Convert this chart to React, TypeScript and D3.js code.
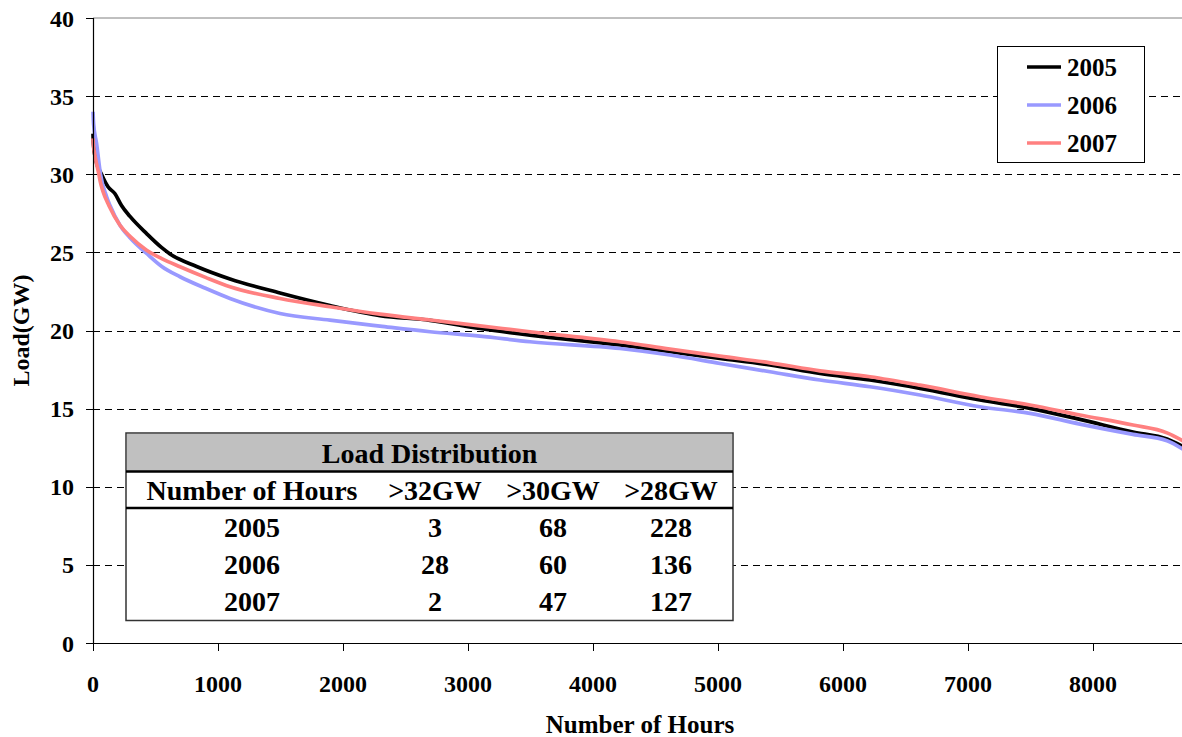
import React from 'react';
import * as d3 from 'd3';

// load duration curves, [hour, GW]
const load2005: [number, number][] = [
  [0, 32.6], [3, 32.0], [20, 31.0], [68, 30.0], [120, 29.2], [176, 28.75], [228, 28.0],
  [296, 27.3], [429, 26.2], [550, 25.3], [616, 24.9], [829, 24.1], [1096, 23.3],
  [1496, 22.4], [1896, 21.6], [2296, 20.95], [2696, 20.65], [3096, 20.13], [3496, 19.7],
  [4216, 19.07], [4616, 18.64], [5016, 18.21], [5416, 17.79], [5816, 17.25], [6216, 16.83],
  [6616, 16.3], [7096, 15.55], [7496, 15.02], [7896, 14.31], [8320, 13.5], [8592, 13.05],
  [8760, 12.4],
];
const load2006: [number, number][] = [
  [0, 34.0], [5, 33.2], [28, 32.0], [60, 30.0], [109, 28.56], [136, 28.0], [216, 26.74],
  [300, 25.9], [429, 24.93], [550, 24.1], [696, 23.44], [900, 22.7], [1096, 22.05],
  [1496, 21.09], [1896, 20.66], [2296, 20.28], [2696, 19.92], [3096, 19.64], [3496, 19.28],
  [4216, 18.85], [4616, 18.43], [5016, 17.89], [5416, 17.36], [5816, 16.83], [6216, 16.4],
  [6616, 15.87], [7096, 15.12], [7496, 14.7], [7896, 14.01], [8320, 13.35], [8592, 12.95],
  [8760, 12.2],
];
const load2007: [number, number][] = [
  [0, 32.3], [2, 32.0], [20, 31.0], [47, 30.0], [56, 29.6], [80, 28.9], [127, 28.0],
  [216, 26.74], [300, 26.0], [429, 25.14], [550, 24.6], [696, 24.08], [900, 23.4],
  [1096, 22.8], [1496, 22.05], [1896, 21.52], [2296, 21.05], [2696, 20.67], [3096, 20.3],
  [3496, 19.92], [4216, 19.28], [4616, 18.81], [5016, 18.36], [5416, 17.93], [5816, 17.42],
  [6216, 17.04], [6616, 16.5], [7096, 15.76], [7496, 15.23], [7896, 14.59], [8320, 13.95],
  [8592, 13.45], [8760, 12.75],
];

const seriesNames = ['2005', '2006', '2007'];
const seriesColors = ['#000000', '#9999FF', '#FF8080'];

const xTicks = [0, 1000, 2000, 3000, 4000, 5000, 6000, 7000, 8000];
const yTicks = [0, 5, 10, 15, 20, 25, 30, 35, 40];

// inset table
const tableTitle = 'Load Distribution';
const tableHeaders = ['Number of Hours', '>32GW', '>30GW', '>28GW'];
const tableYears = ['2005', '2006', '2007'];
const hoursOver32 = [3, 28, 2];
const hoursOver30 = [68, 60, 47];
const hoursOver28 = [228, 136, 127];

const width = 1182;
const height = 737;
const margin = { top: 18, left: 93, bottom: 94 };
const font = 'Liberation Serif, DejaVu Serif, Noto Serif, serif';

export default function App() {
  const x = d3.scaleLinear().domain([0, 8760]).range([margin.left, 1188]);
  const y = d3.scaleLinear().domain([0, 40]).range([height - margin.bottom, margin.top]);

  const line = d3.line<[number, number]>()
    .x(d => x(d[0]))
    .y(d => y(d[1]))
    .curve(d3.curveMonotoneX);

  const series = [load2005, load2006, load2007];
  const y0 = y(0);

  // table geometry
  const tb = { x0: 126, x1: 733, top: 433, headBottom: 471.5, colBottom: 508, bottom: 620.5 };
  const colX = [252, 435, 553, 671];
  const rowBase = [537, 574, 611];
  const tableRows = tableYears.map((yr, i) => [yr, hoursOver32[i], hoursOver30[i], hoursOver28[i]]);

  return (
    <svg width={width} height={height} style={{ position: 'absolute', left: 0, top: 0, background: '#fff', fontFamily: font, fontWeight: 'bold' }}>
      {/* top border of plot area */}
      <line x1={margin.left} x2={width} y1={y(40)} y2={y(40)} stroke="#808080" strokeWidth={1} />
      {/* gridlines */}
      {yTicks.filter(t => t > 0 && t < 40).map(t => (
        <line key={t} x1={margin.left} x2={width} y1={Math.round(y(t)) + 0.5} y2={Math.round(y(t)) + 0.5}
          stroke="#000" strokeWidth={1} strokeDasharray="7,5" />
      ))}

      {/* curves, 2007 drawn last */}
      {series.map((s, i) => (
        <path key={seriesNames[i]} d={line(s) || ''} fill="none" stroke={seriesColors[i]}
          strokeWidth={3.7} strokeLinejoin="round" />
      ))}

      {/* axes */}
      <line x1={margin.left + 0.5} x2={margin.left + 0.5} y1={y(40)} y2={y0} stroke="#000" strokeWidth={1.2} />
      <line x1={margin.left} x2={width} y1={y0 + 0.5} y2={y0 + 0.5} stroke="#000" strokeWidth={1.2} />
      {yTicks.map(t => (
        <g key={t}>
          <line x1={margin.left - 7} x2={margin.left} y1={Math.round(y(t)) + 0.5} y2={Math.round(y(t)) + 0.5}
            stroke="#000" strokeWidth={1} />
          <text x={74} y={y(t) + 8.5} textAnchor="end" fontSize={24}>{t}</text>
        </g>
      ))}
      {xTicks.map(t => (
        <g key={t}>
          <line x1={Math.round(x(t)) + 0.5} x2={Math.round(x(t)) + 0.5} y1={y0} y2={y0 + 8} stroke="#000" strokeWidth={1} />
          <text x={x(t)} y={y0 + 49} textAnchor="middle" fontSize={24}>{t}</text>
        </g>
      ))}

      {/* axis titles */}
      <text x={640} y={733} textAnchor="middle" fontSize={25}>Number of Hours</text>
      <text transform={`translate(29,${(y(40) + y0) / 2}) rotate(-90)`} textAnchor="middle" fontSize={24}>Load(GW)</text>

      {/* legend */}
      <rect x={997.5} y={46.5} width={147} height={116} fill="#fff" stroke="#000" strokeWidth={1} />
      {seriesNames.map((n, i) => (
        <g key={n}>
          <line x1={1027} x2={1061} y1={67 + i * 38} y2={67 + i * 38} stroke={seriesColors[i]} strokeWidth={3.7} />
          <text x={1067} y={75.5 + i * 38} fontSize={25}>{n}</text>
        </g>
      ))}

      {/* inset table */}
      <rect x={tb.x0} y={tb.top} width={tb.x1 - tb.x0} height={tb.bottom - tb.top} fill="#fff" stroke="#333" strokeWidth={1.5} />
      <rect x={tb.x0 + 1} y={tb.top + 1} width={tb.x1 - tb.x0 - 2} height={tb.headBottom - tb.top - 1} fill="#C0C0C0" />
      <line x1={tb.x0} x2={tb.x1} y1={tb.headBottom} y2={tb.headBottom} stroke="#000" strokeWidth={2.5} />
      <line x1={tb.x0} x2={tb.x1} y1={tb.colBottom} y2={tb.colBottom} stroke="#000" strokeWidth={2.5} />
      <text x={(tb.x0 + tb.x1) / 2} y={463} textAnchor="middle" fontSize={28}>{tableTitle}</text>
      {tableHeaders.map((h, i) => (
        <text key={h} x={colX[i]} y={500} textAnchor="middle" fontSize={28}>{h}</text>
      ))}
      {tableRows.map((row, r) => row.map((v, c) => (
        <text key={`${r}-${c}`} x={colX[c]} y={rowBase[r]} textAnchor="middle" fontSize={28}>{v}</text>
      )))}
    </svg>
  );
}
